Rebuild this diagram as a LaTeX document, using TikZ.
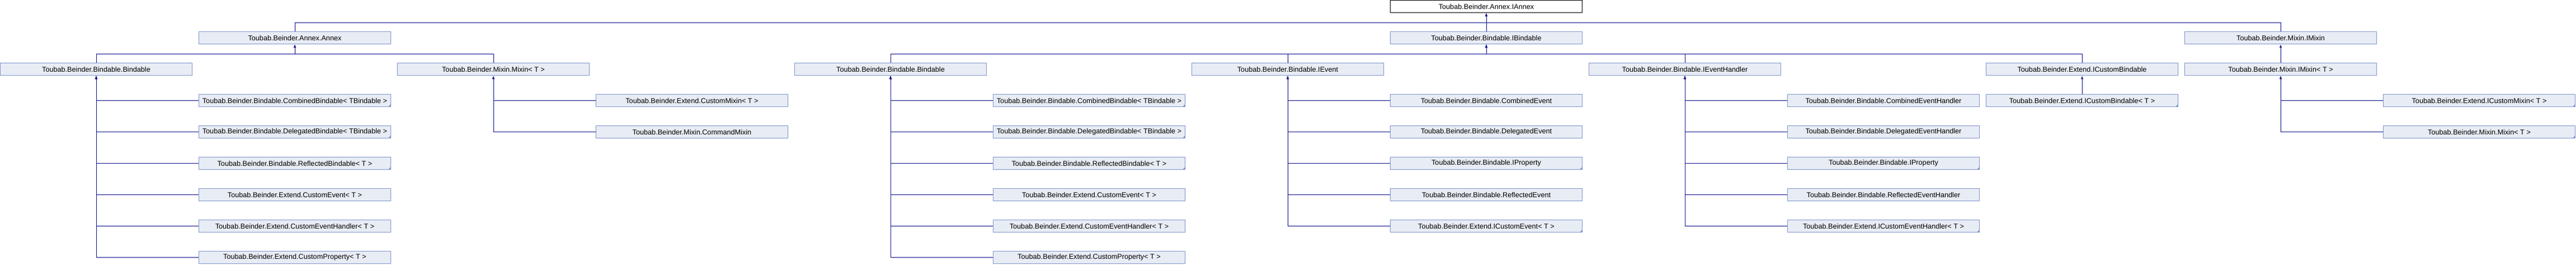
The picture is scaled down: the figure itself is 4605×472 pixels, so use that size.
\documentclass[tikz,border=0pt]{standalone}
\usepackage{fontspec}
\setmainfont{Liberation Sans}
\usetikzlibrary{arrows.meta}

\definecolor{edgeblue}{RGB}{12,16,140}
\definecolor{boxfill}{HTML}{E8ECF4}
\definecolor{boxline}{HTML}{7F95CB}

\tikzset{
  cls/.style={draw=boxline, fill=boxfill, line width=0.75pt,
    minimum width=257pt, minimum height=16.5pt, inner sep=1pt,
    font=\fontsize{9.5pt}{11pt}\selectfont},
  rootcls/.style={cls, draw=black, fill=white},
  edge/.style={draw=edgeblue, line width=0.75pt},
  truncbox/.style={path picture={
    \fill[boxline] (path picture bounding box.south east) -- ++(-3pt,0pt) -- ++(3pt,3.5pt) -- cycle;}},
  fullbox/.style={}
}

\begin{document}
\begin{tikzpicture}[x=0.75pt, y=-0.75pt, >={Latex[length=4.5pt,width=3.2pt]}]
  \useasboundingbox (0,0) rectangle (4605,472);

  % The top interface and the classes right under it
  \node[rootcls] (iannex) at (2657,11.5) {Toubab.Beinder.Annex.IAnnex};
  \node[cls] (annex) at (527,67.5) {Toubab.Beinder.Annex.Annex};
  \node[cls] (ibindable) at (2657,67.5) {Toubab.Beinder.Bindable.IBindable};
  \node[cls] (imixin) at (4077,67.5) {Toubab.Beinder.Mixin.IMixin};
  \foreach \n in {annex, ibindable, imixin} {
    \draw[edge,->] (\n.north) -- ++(0,-16) -| (iannex.south);
  }

  % Second row
  \node[cls] (bindA) at (172,123.5) {Toubab.Beinder.Bindable.Bindable};
  \node[cls] (mixinT) at (882,123.5) {Toubab.Beinder.Mixin.Mixin< T >};
  \node[cls] (bindB) at (1592,123.5) {Toubab.Beinder.Bindable.Bindable};
  \node[cls] (ievent) at (2302,123.5) {Toubab.Beinder.Bindable.IEvent};
  \node[cls] (ihandler) at (3012,123.5) {Toubab.Beinder.Bindable.IEventHandler};
  \node[cls] (icb) at (3722,123.5) {Toubab.Beinder.Extend.ICustomBindable};
  \node[cls] (imixinT) at (4077,123.5) {Toubab.Beinder.Mixin.IMixin< T >};
  \foreach \n in {bindA, mixinT} {
    \draw[edge,->] (\n.north) -- ++(0,-16) -| (annex.south);
  }
  \foreach \n in {bindB, ievent, ihandler, icb} {
    \draw[edge,->] (\n.north) -- ++(0,-16) -| (ibindable.south);
  }
  \draw[edge,->] (imixinT) -- (imixin);

  % Both Bindable classes have the same six children
  \foreach \p/\c/\q in {bindA/1/a, bindB/5/b} {
    \foreach \r/\lab/\st in {
      3/{Toubab.Beinder.Bindable.CombinedBindable< TBindable >}/truncbox,
      4/{Toubab.Beinder.Bindable.DelegatedBindable< TBindable >}/truncbox,
      5/{Toubab.Beinder.Bindable.ReflectedBindable< T >}/truncbox,
      6/{Toubab.Beinder.Extend.CustomEvent< T >}/fullbox,
      7/{Toubab.Beinder.Extend.CustomEventHandler< T >}/fullbox,
      8/{Toubab.Beinder.Extend.CustomProperty< T >}/fullbox} {
      \node[cls,\st] (\q\r) at ({\c*355+172},{\r*56+11.5}) {\lab};
      \draw[edge,<-] (\p.south) |- (\q\r.west);
    }
  }

  % Children of Mixin
  \foreach \r/\lab in {
    3/{Toubab.Beinder.Extend.CustomMixin< T >},
    4/{Toubab.Beinder.Mixin.CommandMixin}} {
    \node[cls] (m\r) at (1237,{\r*56+11.5}) {\lab};
    \draw[edge,<-] (mixinT.south) |- (m\r.west);
  }

  % Children of IEvent
  \foreach \r/\lab/\st in {
    3/{Toubab.Beinder.Bindable.CombinedEvent}/fullbox,
    4/{Toubab.Beinder.Bindable.DelegatedEvent}/fullbox,
    5/{Toubab.Beinder.Bindable.IProperty}/truncbox,
    6/{Toubab.Beinder.Bindable.ReflectedEvent}/fullbox,
    7/{Toubab.Beinder.Extend.ICustomEvent< T >}/truncbox} {
    \node[cls,\st] (e\r) at (2657,{\r*56+11.5}) {\lab};
    \draw[edge,<-] (ievent.south) |- (e\r.west);
  }

  % Children of IEventHandler
  \foreach \r/\lab/\st in {
    3/{Toubab.Beinder.Bindable.CombinedEventHandler}/fullbox,
    4/{Toubab.Beinder.Bindable.DelegatedEventHandler}/fullbox,
    5/{Toubab.Beinder.Bindable.IProperty}/truncbox,
    6/{Toubab.Beinder.Bindable.ReflectedEventHandler}/fullbox,
    7/{Toubab.Beinder.Extend.ICustomEventHandler< T >}/truncbox} {
    \node[cls,\st] (h\r) at (3367,{\r*56+11.5}) {\lab};
    \draw[edge,<-] (ihandler.south) |- (h\r.west);
  }

  % ICustomBindable and IMixin<T>
  \node[cls,truncbox] (icbT) at (3722,179.5) {Toubab.Beinder.Extend.ICustomBindable< T >};
  \draw[edge,->] (icbT) -- (icb);
  \foreach \r/\lab in {
    3/{Toubab.Beinder.Extend.ICustomMixin< T >},
    4/{Toubab.Beinder.Mixin.Mixin< T >}} {
    \node[cls,truncbox] (x\r) at (4432,{\r*56+11.5}) {\lab};
    \draw[edge,<-] (imixinT.south) |- (x\r.west);
  }
\end{tikzpicture}
\end{document}
